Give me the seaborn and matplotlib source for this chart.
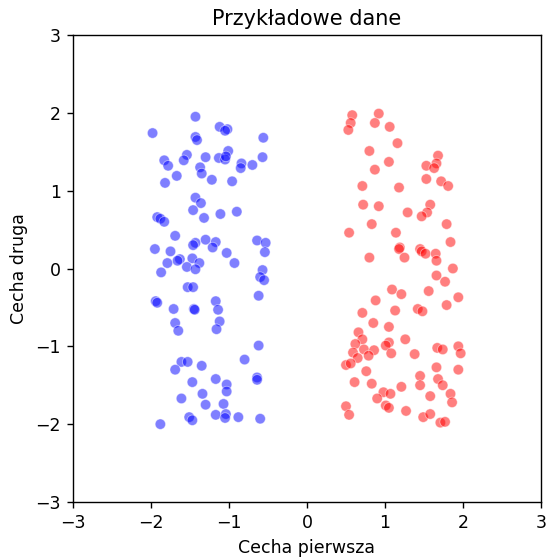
import matplotlib
matplotlib.use("Agg")
import matplotlib.pyplot as plt
import pandas as pd
import seaborn as sns

# Klasa 0 (niebieska)
blue_x = [-1.43, -1.98, -1.43, -1.41, -1.54, -1.30, -1.83, -1.58, -1.78, -1.37,
          -1.35, -1.67, -1.82, -1.22, -1.43, -1.36, -1.46, -1.32, -1.92, -1.88,
          -1.83, -1.69, -1.30, -1.95, -1.75, -1.43, -1.46, -1.63, -1.66, -1.47,
          -1.38, -1.79, -1.54, -1.43, -1.87,
          -1.12, -1.02, -1.05, -0.56, -1.01, -1.13, -1.05, -1.04, -0.84, -0.85,
          -0.70, -0.57, -0.96, -0.90, -1.11, -1.17, -1.21, -1.03, -0.64, -0.53,
          -0.54, -0.93, -0.57,
          -1.53, -1.46, -1.94, -1.92, -1.71, -1.45, -1.44, -1.69, -1.65, -1.61,
          -1.53, -1.69, -1.35, -1.47, -1.61, -1.34, -1.30, -1.51, -1.47, -1.88,
          -0.60, -0.55, -0.62, -1.17, -1.14, -1.12, -1.16, -0.62, -0.80, -1.17,
          -1.03, -1.03, -0.64, -0.64, -1.07, -1.17, -1.04, -1.05, -0.88, -0.60]
blue_y = [1.95, 1.74, 1.69, 1.65, 1.46, 1.43, 1.39, 1.39, 1.32, 1.30,
          1.22, 1.19, 1.10, 1.14, 0.91, 0.84, 0.75, 0.65, 0.66, 0.64,
          0.60, 0.42, 0.37, 0.25, 0.22, 0.33, 0.30, 0.12, 0.10, 0.13,
          0.07, 0.07, 0.02, -0.01, -0.05,
          1.82, 1.79, 1.77, 1.68, 1.51, 1.42, 1.40, 1.44, 1.35, 1.29,
          1.33, 1.43, 1.12, 0.73, 0.70, 0.34, 0.27, 0.20, 0.36, 0.33,
          0.21, 0.07, -0.02,
          -0.24, -0.24, -0.42, -0.44, -0.52, -0.52, -0.53, -0.70, -0.80, -1.20,
          -1.20, -1.30, -1.25, -1.46, -1.67, -1.61, -1.75, -1.91, -1.95, -2.00,
          -0.11, -0.15, -0.35, -0.42, -0.53, -0.68, -0.78, -0.99, -1.17, -1.42,
          -1.49, -1.58, -1.40, -1.43, -1.74, -1.88, -1.87, -1.92, -1.91, -1.93]

# Klasa 1 (czerwona)
red_x = [0.58, 0.92, 0.56, 0.87, 0.53, 1.06, 1.16, 0.80, 1.05, 0.87,
         0.71, 1.18, 0.72, 0.92, 0.83, 0.54, 1.14, 1.19, 1.18, 0.80,
         1.68, 1.66, 1.53, 1.63, 1.53, 1.72, 1.81, 1.58, 1.54, 1.29,
         1.47, 1.79, 1.84, 1.25, 1.45, 1.47, 1.52, 1.65, 1.66, 1.87,
         1.09, 1.21, 0.88, 1.13, 0.71, 0.85, 1.05, 0.66, 0.71, 0.62,
         1.05, 1.01, 0.73, 0.86, 1.08, 0.59, 0.65, 0.79, 0.50, 0.56,
         0.76, 0.61, 0.83, 1.21, 0.98, 1.07, 0.90, 1.01, 1.05, 0.50, 0.54,
         1.66, 1.77, 1.56, 1.94, 1.79, 1.42, 1.48, 1.26, 1.38, 1.67,
         1.74, 1.94, 1.97, 1.66, 1.94, 1.45, 1.68, 1.74, 1.45, 1.58,
         1.84, 1.86, 1.27, 1.49, 1.58, 1.71, 1.77]
red_y = [1.97, 1.99, 1.87, 1.87, 1.78, 1.82, 1.61, 1.51, 1.37, 1.27,
         1.06, 1.04, 0.82, 0.80, 0.57, 0.46, 0.46, 0.27, 0.25, 0.14,
         1.45, 1.35, 1.32, 1.29, 1.15, 1.12, 1.06, 0.82, 0.72, 0.72,
         0.67, 0.57, 0.34, 0.14, 0.25, 0.22, 0.19, 0.19, 0.10, 0.00,
         -0.27, -0.33, -0.41, -0.54, -0.57, -0.70, -0.75, -0.82, -0.91, -0.97,
         -0.95, -0.99, -1.04, -1.05, -1.09, -1.08, -1.15, -1.12, -1.24, -1.22,
         -1.32, -1.46, -1.48, -1.52, -1.59, -1.61, -1.67, -1.76, -1.79, -1.77, -1.88,
         -0.09, -0.17, -0.29, -0.37, -0.47, -0.52, -0.55, -0.91, -1.10, -1.02,
         -1.04, -1.00, -1.09, -1.27, -1.30, -1.38, -1.42, -1.50, -1.50, -1.64,
         -1.61, -1.72, -1.83, -1.91, -1.87, -1.98, -1.97]

df = pd.DataFrame({
    "x": blue_x + red_x,
    "y": blue_y + red_y,
    "klasa": ["0"] * len(blue_x) + ["1"] * len(red_x),
})

# reference looks rendered at ~125 dpi, so scale everything that way
fig = plt.figure(figsize=(546 / 125, 557 / 125), dpi=125)
ax = fig.add_axes([73 / 546, 1 - 502 / 557, 468 / 546, 467 / 557])
sns.scatterplot(data=df, x="x", y="y", hue="klasa",
                palette={"0": "blue", "1": "red"}, alpha=0.5,
                legend=False, ax=ax)
ax.set_xlim(-3, 3)
ax.set_ylim(-3, 3)
ax.set_title("Przykładowe dane")
ax.set_xlabel("Cecha pierwsza")
ax.set_ylabel("Cecha druga")

fig.savefig("out.png", dpi=125)
